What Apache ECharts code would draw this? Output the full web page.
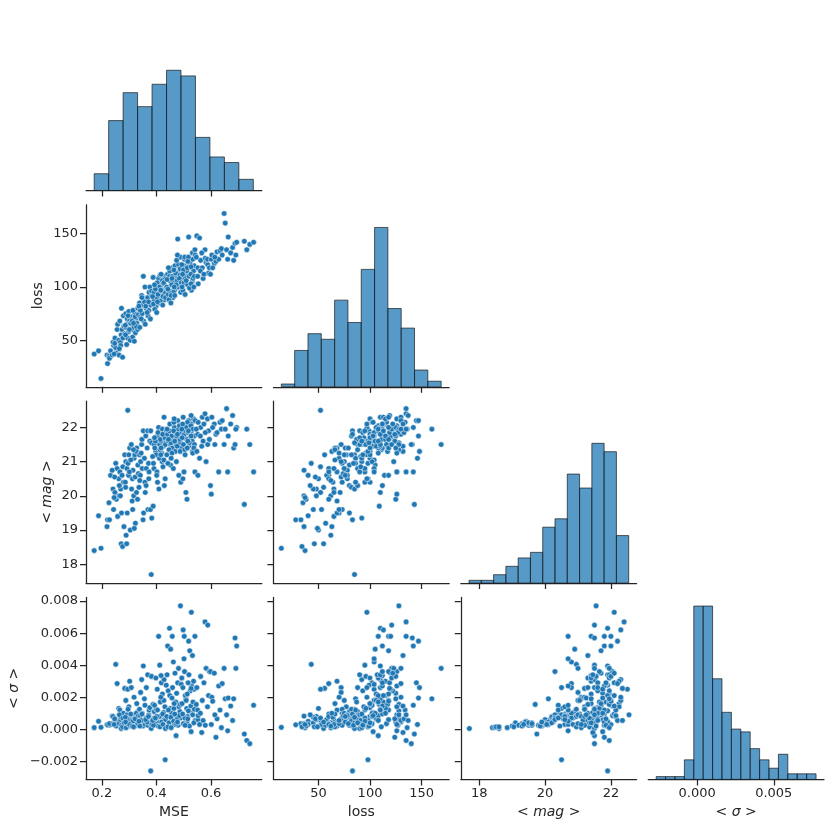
<!DOCTYPE html>
<html><head><meta charset="utf-8">
<script src="https://cdn.jsdelivr.net/npm/echarts@6/dist/echarts.min.js"></script>
<style>html,body{margin:0;padding:0;background:#fff}#c{width:831px;height:829px}</style>
</head><body><div id="c"></div>
<script>
// ---- data: one entry per observation ----
const mse = [
0.172,0.188,0.197,0.219,0.226,0.221,0.232,0.228,0.238,0.243,
0.241,0.248,0.253,0.251,0.256,0.262,0.258,0.263,0.266,0.268,
0.272,0.271,0.276,0.274,0.269,0.281,0.279,0.264,0.247,0.245,
0.277,0.284,0.288,0.292,0.291,0.289,0.293,0.295,0.302,0.298,
0.304,0.299,0.308,0.312,0.309,0.313,0.318,0.321,0.317,0.323,
0.319,0.328,0.332,0.327,0.331,0.286,0.296,0.306,0.314,0.326,
0.301,0.311,0.322,0.287,0.334,0.316,0.338,0.342,0.346,0.352,
0.348,0.353,0.351,0.358,0.362,0.359,0.363,0.368,0.372,0.369,
0.373,0.381,0.379,0.378,0.383,0.341,0.344,0.356,0.366,0.376,
0.339,0.347,0.361,0.371,0.382,0.336,0.388,0.392,0.391,0.398,
0.402,0.399,0.408,0.412,0.409,0.418,0.421,0.428,0.432,0.429,
0.394,0.403,0.406,0.411,0.414,0.422,0.419,0.426,0.431,0.434,
0.436,0.389,0.401,0.413,0.423,0.427,0.386,0.396,0.424,0.404,
0.416,0.433,0.393,0.417,0.441,0.438,0.443,0.448,0.452,0.451,
0.458,0.462,0.461,0.468,0.472,0.469,0.478,0.482,0.479,0.488,
0.492,0.489,0.439,0.446,0.449,0.456,0.459,0.466,0.471,0.476,
0.481,0.486,0.442,0.453,0.457,0.463,0.464,0.473,0.474,0.484,
0.487,0.491,0.444,0.454,0.465,0.467,0.477,0.498,0.502,0.501,
0.497,0.508,0.512,0.518,0.522,0.528,0.532,0.529,0.541,0.503,
0.506,0.511,0.514,0.519,0.524,0.531,0.536,0.538,0.494,0.499,
0.504,0.509,0.516,0.521,0.526,0.533,0.534,0.542,0.496,0.505,
0.513,0.517,0.527,0.527,0.539,0.493,0.515,0.537,0.548,0.552,
0.551,0.558,0.562,0.568,0.571,0.578,0.582,0.588,0.591,0.546,
0.553,0.561,0.566,0.574,0.579,0.587,0.594,0.598,0.601,0.603,
0.612,0.618,0.622,0.628,0.633,0.641,0.638,0.606,0.614,0.648,
0.652,0.657,0.661,0.663,0.672,0.679,0.683,0.688,0.694,0.691,
0.722,0.731,0.742,0.756];
const loss = [
37,40,14,36,35,28,40,33,36,45,
48,52,38,43,60,50,65,36,68,48,
80,55,34,60,45,63,73,42,47,37,
52,56,75,65,46,62,70,52,68,58,
50,77,72,60,65,53,70,75,62,57,
49,66,80,71,60,64,73,66,78,63,
60,68,72,55,74,66,85,72,92,110,
75,68,83,100,80,65,88,90,78,73,
95,85,83,70,92,78,70,86,76,100,
62,90,82,86,96,82,109,88,95,100,
90,82,108,95,85,102,92,110,98,88,
79,104,93,100,87,106,96,103,94,108,
99,84,76,111,83,104,91,98,91,86,
97,90,102,112,112,100,93,110,105,96,
118,104,90,120,108,98,145,114,100,128,
108,95,107,88,115,102,110,97,113,106,
121,111,98,85,108,95,116,102,125,108,
117,104,118,92,100,92,130,113,120,104,
97,110,125,147,118,97,132,112,135,126,
108,115,102,110,122,105,115,120,100,116,
128,106,119,99,112,126,108,130,112,93,
118,128,103,119,110,121,124,100,148,118,
110,146,125,118,108,135,123,121,113,128,
103,115,132,112,127,126,118,112,126,130,
122,124,133,126,134,130,136,118,128,169,
160,135,126,147,132,137,125,141,142,130,
143,135,140,142];
const mag = [
18.40,19.42,18.47,19.10,19.80,19.30,20.60,19.30,20.75,19.60,
20.20,20.10,19.90,20.95,20.80,20.50,19.40,20.00,20.70,20.00,
19.50,18.60,18.52,20.60,20.20,19.10,20.40,20.30,20.55,19.95,
20.85,21.20,21.00,20.80,18.60,18.85,19.50,22.50,21.40,20.60,
19.00,21.20,21.50,20.50,20.20,19.60,21.10,21.20,20.00,19.20,
19.05,21.40,20.90,20.10,19.90,20.40,20.95,21.05,20.75,21.30,
20.70,19.85,20.55,20.25,20.65,21.35,21.20,21.00,21.50,21.90,
20.80,19.50,19.30,20.40,20.30,20.10,20.80,21.90,20.50,19.60,
20.70,17.70,21.90,19.60,19.35,20.60,21.25,21.10,21.40,21.60,
20.45,21.65,21.75,20.95,21.55,20.25,19.70,21.50,20.80,21.30,
20.70,21.20,22.00,21.50,20.20,21.60,21.00,22.30,20.50,20.30,
21.40,21.75,21.85,21.10,21.65,21.95,21.25,21.45,21.70,21.55,
21.90,20.95,20.60,21.35,21.80,21.05,21.15,21.60,20.85,20.40,
21.20,21.50,21.70,21.40,21.80,21.20,21.60,21.90,20.90,21.50,
21.40,20.80,21.70,21.70,21.50,21.30,22.20,20.60,21.80,21.55,
21.40,20.40,21.95,21.35,22.10,21.75,21.60,22.00,21.85,21.45,
21.95,21.65,20.95,21.55,21.25,21.90,22.15,21.00,21.75,22.05,
21.30,21.85,21.65,21.10,22.25,21.60,21.80,22.30,21.80,20.70,
20.50,20.10,19.90,22.20,21.70,22.10,21.30,21.80,20.70,22.05,
21.90,21.65,22.15,21.45,21.95,21.60,22.25,21.75,21.70,21.50,
21.35,22.00,21.85,21.55,22.05,21.25,21.95,22.20,22.10,21.20,
21.40,21.90,21.75,22.35,21.50,21.95,21.60,21.40,21.30,20.60,
21.80,21.10,22.00,22.30,21.60,22.40,21.00,21.50,21.90,21.95,
22.15,21.75,21.45,22.10,21.85,22.25,21.65,20.30,20.05,22.30,
22.10,21.80,21.85,20.70,22.15,22.20,21.95,22.00,21.50,21.50,
21.95,22.55,20.70,21.75,22.10,22.35,21.40,21.50,22.00,21.95,
19.75,21.95,21.50,20.70];
const sigma = [
0.0001,0.0005,0.00012,0.0003,0.00025,0.00028,0.0003,0.00035,0.00082,0.0004,
0.0008,0.00055,0.0002,0.00405,0.00285,0.0013,0.00045,0.00035,0.0012,0.0006,
0.00025,0.00005,0.00015,0.00095,0.00075,0.0004,0.001,0.0009,0.00065,0.0003,
0.0007,0.00255,0.0018,0.0009,0.00015,0.0001,0.00035,0.0025,0.003,0.0006,
0.0002,0.0014,0.0026,0.0008,0.00055,0.0003,0.002,0.0007,0.0004,0.00025,
0.00015,0.0016,0.0011,0.00045,0.00035,0.00075,0.00125,0.00095,0.0005,0.001,
0.0003,0.0002,0.00065,0.00045,0.00085,0.00015,0.00125,0.0023,0.0031,0.00395,
0.001,0.0004,0.0002,0.0015,0.0007,0.0003,0.0026,0.0034,0.0009,0.00025,
0.0012,0.00005,-0.0026,0.00035,0.0003,0.00085,0.00055,0.0019,0.00045,0.00135,
0.0002,0.00095,0.0006,0.0008,0.0033,0.0005,0.00155,0.0011,0.0007,0.0032,
0.0005,0.00125,0.0058,0.004,0.0004,0.0029,0.0009,0.0031,-0.0019,0.0006,
0.00035,0.0025,0.0002,0.0008,0.0017,0.0022,0.00045,0.00105,0.0014,0.0006,
0.00275,0.00025,0.0008,0.00015,0.00095,0.0018,0.00055,0.0007,0.0003,0.0012,
0.002,0.00005,0.0015,0.00335,0.0052,0.0008,0.0024,0.0063,0.005,0.0013,
0.0058,0.0042,0.0009,0.0035,-0.0004,0.00055,0.0029,0.0014,0.00025,0.0077,
0.0032,0.0007,0.0034,0.0004,0.0021,0.001,0.0026,0.0003,0.0017,0.00065,
0.0038,0.0011,0.00015,0.00075,0.00195,0.0005,0.0013,0.00035,0.00225,0.00085,
0.00155,0.0028,0.0012,0.0001,0.0016,0.00095,0.00045,0.0062,0.0058,0.0044,
0.0026,0.0019,0.00045,0.0055,0.0049,0.0073,0.0046,0.0027,0.0058,0.0036,
0.0021,0.0013,0.0008,0.0034,0.0024,0.001,0.003,0.0025,0.0016,0.00035,
0.0007,0.0018,0.0029,0.0002,0.00145,0.0009,0.0017,0.00055,0.00095,0.00025,
0.0022,0.00115,-0.00015,0.00255,0.00125,0.0032,0.00065,0.0004,0.0026,0.0006,
0.0012,0.0003,0.0033,0.0018,0.00055,0.0067,0.0038,0.0065,0.0021,0.00155,
0.00085,0.001,-0.0002,0.0029,0.00025,0.0014,0.0036,0.0036,0.0003,0.002,
0.0035,-0.0005,0.00065,0.0027,0.0012,0.00285,0.0001,0.00175,0.0009,0.0038,
0.0019,0.0009,-0.0001,0.00195,0.00145,0.00055,0.0019,0.0057,0.0052,0.0038,
-0.0003,-0.0007,-0.0009,0.0015];

// ---- histogram counts (diagonal) and bin ranges ----
const mseCounts = [6,25,35,30,38,43,41,19,12,10,4];
const mseBinRange = [0.172, 0.755];
const lossCounts = [1,13,19,17,31,23,42,57,28,21,6,2];
const lossBinRange = [14, 169];
const magCounts = [1,1,3,6,9,11,20,23,39,34,50,47,17];
const magBinRange = [17.69, 22.54];
const sigmaCounts = [1,1,1,7,62,62,36,24,18,17,11,7,4,9,2,2,2];
const sigmaBinRange = [-0.00268, 0.00776];

// ---- tick labels ----
const mseTicks = [0.2, 0.4, 0.6];
const lossTicks = [50, 100, 150];
const magTicksX = [18, 20, 22];
const magTicksY = [18, 19, 20, 21, 22];
const sigmaTicksX = [0, 0.005];
const sigmaTicksY = [-0.002, 0, 0.002, 0.004, 0.006, 0.008];
const axisNames = ['MSE', 'loss', '< {i|mag} >', '< {i|σ} >'];

// ---- build ----
const FONT = 'DejaVu Sans';
const INK = '#262626';
const columns = [mse, loss, mag, sigma];
const colRanges = [[0.142,0.786],[6.3,176.8],[17.44,22.78],[-0.0032,0.00828]];
const rowRanges = [null,[6.2,177.2],[17.45,22.77],[-0.00313,0.00823]];
const xTicks = [mseTicks, lossTicks, magTicksX, sigmaTicksX];
const yTicks = [null, lossTicks, magTicksY, sigmaTicksY];
const hists = [[mseCounts,mseBinRange],[lossCounts,lossBinRange],[magCounts,magBinRange],[sigmaCounts,sigmaBinRange]];
const histMax = Math.max(...mseCounts, ...lossCounts, ...magCounts, ...sigmaCounts) * 1.05;
const yNameGap = [0, 41, 32, 65];

function fmt(k, v) {
  if (k === 0) return v.toFixed(1);
  if (k === 3) { if (Math.abs(v) < 1e-12) return '0.000'; return (v < 0 ? '\u2212' : '') + Math.abs(v).toFixed(3); }
  return String(v);
}
const nameStyle = {fontSize: 14, color: INK, fontFamily: FONT,
  rich: {i: {fontStyle: 'italic', fontSize: 14, color: INK, fontFamily: FONT}}};
const lineStyle = {color: INK, width: 1.25};

const grid = [], xAxis = [], yAxis = [], series = [];
let k = 0;
for (let r = 0; r < 4; r++) {
  for (let c = 0; c <= r; c++) {
    grid.push({left: 86 + c * 187.4, top: 8.5 + r * 196.3, width: 175.8, height: 182, containLabel: false});
    xAxis.push({
      gridIndex: k, type: 'value', min: colRanges[c][0], max: colRanges[c][1],
      axisLine: {show: true, onZero: false, lineStyle},
      axisTick: {show: true, length: 6, lineStyle, customValues: xTicks[c]},
      axisLabel: {show: r === 3, customValues: xTicks[c], formatter: v => fmt(c, v),
        margin: 8, fontSize: 13, color: INK, fontFamily: FONT},
      splitLine: {show: false},
      name: r === 3 ? axisNames[c] : '', nameLocation: 'middle', nameGap: 26, nameTextStyle: nameStyle
    });
    if (r === c) {
      yAxis.push({gridIndex: k, type: 'value', min: 0, max: histMax, show: false});
      const [counts, range] = hists[c];
      const w = (range[1] - range[0]) / counts.length;
      series.push({
        type: 'custom', xAxisIndex: k, yAxisIndex: k, clip: false,
        data: counts.map((n, i) => [range[0] + i * w, range[0] + (i + 1) * w, n]),
        encode: {x: [0, 1], y: 2},
        renderItem: (params, api) => {
          const p0 = api.coord([api.value(0), api.value(2)]);
          const p1 = api.coord([api.value(1), 0]);
          return {type: 'rect', shape: {x: p0[0], y: p0[1], width: p1[0] - p0[0], height: p1[1] - p0[1]},
            style: {fill: 'rgba(31,119,180,0.75)', stroke: 'rgba(20,20,20,0.75)', lineWidth: 0.9}};
        }
      });
    } else {
      yAxis.push({
        gridIndex: k, type: 'value', min: rowRanges[r][0], max: rowRanges[r][1],
        axisLine: {show: true, onZero: false, lineStyle},
        axisTick: {show: true, length: 6, lineStyle, customValues: yTicks[r]},
        axisLabel: {show: c === 0, customValues: yTicks[r], formatter: v => fmt(r, v),
          margin: 8, fontSize: 13, color: INK, fontFamily: FONT},
        splitLine: {show: false},
        name: c === 0 ? axisNames[r] : '', nameLocation: 'middle', nameGap: yNameGap[r], nameTextStyle: nameStyle
      });
      const xs = columns[c], ys = columns[r];
      series.push({
        type: 'scatter', xAxisIndex: k, yAxisIndex: k,
        data: xs.map((v, i) => [v, ys[i]]),
        symbolSize: 5.6,
        itemStyle: {color: '#1f77b4', borderColor: '#ffffff', borderWidth: 0.5, opacity: 1}
      });
    }
    k++;
  }
}

const chart = echarts.init(document.getElementById('c'), null, {renderer: 'canvas'});
chart.setOption({animation: false, backgroundColor: '#ffffff', grid, xAxis, yAxis, series});
</script>
</body></html>
